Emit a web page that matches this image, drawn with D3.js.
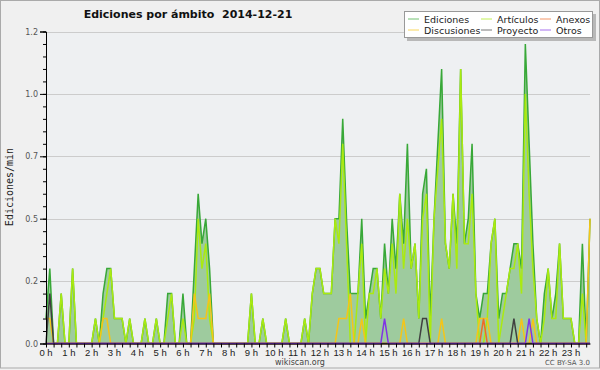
<!DOCTYPE html>
<html>
<head>
<meta charset="utf-8">
<script src="https://cdn.jsdelivr.net/npm/d3@7"></script>
<style>
  body { margin: 0; background: #f0f0f0; }
  svg { display: block; font-family: "DejaVu Sans", sans-serif; }
</style>
</head>
<body>
<div id="chart-area"></div>
<script>
// Ediciones por ámbito, 2014-12-21 — one value per 10 minutes (edits/min)

const ediciones = [
  0.1,0.3,0,0,0.2,0,0,0.3,0,0,0,0,
  0,0.1,0,0.2,0.3,0.3,0.1,0.1,0.1,0,0.1,0,
  0,0,0.1,0,0,0.1,0,0,0.2,0.2,0,0,
  0.2,0,0,0.3,0.6,0.4,0.5,0.3,0,0,0,0,
  0,0,0,0,0,0,0.2,0,0,0.1,0,0,
  0,0,0,0.1,0,0,0,0,0.1,0,0.2,0.3,
  0.3,0.2,0.2,0.2,0.5,0.5,0.9,0.5,0.2,0.2,0.2,0.5,
  0.1,0.2,0.3,0.3,0.1,0.4,0.2,0.5,0.3,0.6,0.4,0.8,
  0.3,0.4,0.1,0.6,0.7,0.1,0.5,0.8,1.1,0.4,0.3,0.6,
  0.4,1.1,0.4,0.5,0.8,0.2,0.1,0.2,0.2,0.4,0.5,0.1,
  0.2,0.2,0.3,0.4,0.4,0.3,1.2,0.8,0.4,0.1,0,0.2,
  0.3,0.1,0.2,0.4,0.1,0.1,0.1,0,0,0.4,0,0.5
];

const articulos = [
  0,0,0,0,0.2,0,0,0.3,0,0,0,0,
  0,0.1,0,0.1,0.2,0.3,0.1,0.1,0.1,0,0.1,0,
  0,0,0.1,0,0,0.1,0,0,0.1,0.2,0,0,
  0.1,0,0,0.1,0.5,0.3,0.4,0.1,0,0,0,0,
  0,0,0,0,0,0,0.2,0,0,0.1,0,0,
  0,0,0,0.1,0,0,0,0,0.1,0,0.2,0.3,
  0.3,0.2,0.2,0.2,0.5,0.4,0.8,0.4,0,0,0.2,0.4,
  0,0.2,0.2,0.3,0.1,0.3,0.2,0.4,0.2,0.6,0.3,0.5,
  0.3,0.4,0.1,0.5,0.6,0,0.5,0.7,0.9,0.4,0.3,0.6,
  0.3,1.1,0.4,0.4,0.6,0.2,0,0,0.1,0.4,0.5,0,
  0.1,0.2,0.3,0.3,0.4,0.2,1.0,0.6,0.3,0.1,0,0.1,
  0.3,0.1,0.1,0.4,0.1,0.1,0.1,0,0,0.2,0,0
];

const anexos = [
  0,0,0,0,0,0,0,0,0,0,0,0,
  0,0,0,0,0,0,0,0,0,0,0,0,
  0,0,0,0,0,0,0,0,0,0,0,0,
  0,0,0,0,0,0,0,0,0,0,0,0,
  0,0,0,0,0,0,0,0,0,0,0,0,
  0,0,0,0,0,0,0,0,0,0,0,0,
  0,0,0,0,0,0,0,0,0,0,0,0,
  0,0,0,0,0,0,0,0,0,0,0,0,
  0,0,0,0,0,0,0,0,0,0,0,0,
  0,0,0,0,0,0,0,0.1,0,0,0,0,
  0,0,0,0,0,0,0,0,0,0,0,0,
  0,0,0,0,0,0,0,0,0,0,0,0
];

const discusiones = [
  0.1,0.1,0,0,0,0,0,0,0,0,0,0,
  0,0,0,0.1,0.1,0,0,0,0,0,0,0,
  0,0,0,0,0,0,0,0,0,0,0,0,
  0,0,0,0.2,0.1,0.1,0.1,0.2,0,0,0,0,
  0,0,0,0,0,0,0,0,0,0,0,0,
  0,0,0,0,0,0,0,0,0,0,0,0,
  0,0,0,0,0,0.1,0.1,0.1,0.2,0,0,0.1,
  0,0,0,0,0,0,0,0,0,0,0.1,0,
  0,0,0,0,0,0,0,0,0.1,0,0,0,
  0,0,0,0,0,0,0.1,0.1,0.1,0,0,0,
  0,0,0,0,0,0.1,0,0,0.1,0,0,0,
  0,0,0,0,0,0,0,0,0,0,0,0.5
];

const proyecto = [
  0,0.2,0,0,0,0,0,0,0,0,0,0,
  0,0,0,0,0,0,0,0,0,0,0,0,
  0,0,0,0,0,0,0,0,0,0,0,0,
  0,0,0,0,0,0,0,0,0,0,0,0,
  0,0,0,0,0,0,0,0,0,0,0,0,
  0,0,0,0,0,0,0,0,0,0,0,0,
  0,0,0,0,0,0,0,0,0,0,0,0,
  0,0,0,0,0,0,0,0,0,0,0,0,
  0,0,0,0.1,0.1,0,0,0,0,0,0,0,
  0,0,0,0,0,0,0,0,0,0,0,0,
  0,0,0,0.1,0,0,0,0,0,0,0,0,
  0,0,0,0,0,0,0,0,0,0,0,0
];

const otros = [
  0,0,0,0,0,0,0,0,0,0,0,0,
  0,0,0,0,0,0,0,0,0,0,0,0,
  0,0,0,0,0,0,0,0,0,0,0,0,
  0,0,0,0,0,0,0,0,0,0,0,0,
  0,0,0,0,0,0,0,0,0,0,0,0,
  0,0,0,0,0,0,0,0,0,0,0,0,
  0,0,0,0,0,0,0,0,0,0,0,0,
  0,0,0,0,0,0.1,0,0,0,0,0,0,
  0,0,0,0,0,0,0,0,0,0,0,0,
  0,0,0,0,0,0,0,0,0,0,0,0,
  0,0,0,0,0,0,0,0.1,0,0,0,0,
  0,0,0,0,0,0,0,0,0,0,0,0
];

const yTicks = [0, 0.25, 0.5, 0.75, 1, 1.25];
const yTickLabels = ['0.0', '0.2', '0.5', '0.7', '1.0', '1.2'];
const hourLabels = d3.range(24).map(h => h + ' h');

const W = 600, H = 370;
const plotLeft = 46, plotRight = 590, plotTop = 31.5, plotBottom = 343.5;

const svg = d3.select('#chart-area').append('svg')
  .attr('width', W)
  .attr('height', H);

// background + frame
svg.append('rect')
  .attr('x', 0.5).attr('y', 0.5)
  .attr('width', W - 1).attr('height', H - 2.5)
  .attr('fill', '#f0f0f0')
  .attr('stroke', '#aaa');

svg.append('rect')
  .attr('x', plotLeft).attr('y', plotTop)
  .attr('width', plotRight - plotLeft).attr('height', plotBottom - plotTop)
  .attr('fill', '#eef0f2');

const x = d3.scaleLinear().domain([0, ediciones.length - 1]).range([plotLeft, plotRight]);
const y = d3.scaleLinear().domain([0, 1.25]).range([plotBottom, plotTop]);

// grid
svg.append('g')
  .selectAll('line')
  .data(yTicks.slice(1))
  .join('line')
  .attr('x1', plotLeft).attr('x2', plotRight)
  .attr('y1', d => Math.round(y(d)) + 0.5)
  .attr('y2', d => Math.round(y(d)) + 0.5)
  .attr('stroke', '#cccccc');

// area of total edits
const area = d3.area()
  .x((d, i) => x(i))
  .y0(y(0))
  .y1(d => y(d));

svg.append('path')
  .datum(ediciones)
  .attr('d', area)
  .attr('fill', '#9ecb9e');

const line = d3.line()
  .x((d, i) => x(i))
  .y(d => y(d));

const series = [
  { name: 'Ediciones',   values: ediciones,   color: '#38a838' },
  { name: 'Artículos',   values: articulos,   color: '#aaea10' },
  { name: 'Anexos',      values: anexos,      color: '#f06a28' },
  { name: 'Discusiones', values: discusiones, color: '#f5c518' },
  { name: 'Proyecto',    values: proyecto,    color: '#404040' },
  { name: 'Otros',       values: otros,       color: '#8033e6' }
];

// draw order: total first, then the namespaces on top
const drawOrder = ['Ediciones', 'Artículos', 'Discusiones', 'Anexos', 'Proyecto', 'Otros'];
drawOrder.forEach(n => {
  const s = series.find(d => d.name === n);
  svg.append('path')
    .datum(s.values)
    .attr('d', line)
    .attr('fill', 'none')
    .attr('stroke', s.color)
    .attr('stroke-width', 1.5);
});

// y axis
const yAxis = svg.append('g')
  .attr('transform', `translate(${plotLeft}, 0)`)
  .call(d3.axisLeft(y).tickValues(yTicks)
    .tickFormat((d, i) => yTickLabels[i]).tickSize(6).tickPadding(2));

svg.append('g')
  .attr('transform', `translate(${plotLeft}, 0)`)
  .call(d3.axisLeft(y).tickValues(d3.range(0, 1.26, 0.05)).tickFormat('').tickSize(3))
  .call(g => g.select('.domain').remove());

yAxis.selectAll('text')
  .attr('font-size', '8px')
  .attr('fill', '#555')
  .attr('font-family', '"DejaVu Sans", sans-serif');

// x axis
svg.append('g')
  .attr('transform', `translate(0, ${plotBottom})`)
  .call(d3.axisBottom(x).tickValues(d3.range(0, ediciones.length, 2))
    .tickFormat('').tickSize(4).tickSizeOuter(0));

svg.selectAll('.domain').attr('stroke', '#000');
svg.selectAll('.tick line').attr('stroke', '#000');

svg.append('g')
  .selectAll('text')
  .data(hourLabels)
  .join('text')
  .attr('x', (d, i) => x(i * 6))
  .attr('y', 356)
  .attr('text-anchor', 'middle')
  .attr('font-size', '9.5px')
  .attr('font-family', '"Liberation Sans", sans-serif')
  .attr('fill', '#222')
  .text(d => d);

// titles
svg.append('text')
  .attr('x', 188).attr('y', 18)
  .attr('text-anchor', 'middle')
  .attr('font-size', '11px')
  .attr('font-weight', 'bold')
  .attr('fill', '#111')
  .style('white-space', 'pre')
  .text('Ediciones por ámbito  2014-12-21');

svg.append('text')
  .attr('transform', `translate(13, 187) rotate(-90)`)
  .attr('text-anchor', 'middle')
  .attr('font-size', '10px')
  .attr('font-family', '"DejaVu Sans Mono", monospace')
  .attr('fill', '#222')
  .text('Ediciones/min');

svg.append('text')
  .attr('x', 300).attr('y', 365)
  .attr('text-anchor', 'middle')
  .attr('font-size', '8px')
  .attr('fill', '#444')
  .text('wikiscan.org');

svg.append('text')
  .attr('x', 590).attr('y', 365)
  .attr('text-anchor', 'end')
  .attr('font-size', '7px')
  .attr('fill', '#555')
  .text('CC BY-SA 3.0');

// legend
const lg = svg.append('g');
lg.append('rect')
  .attr('x', 407).attr('y', 14)
  .attr('width', 189).attr('height', 27)
  .attr('fill', '#b8b8b8');
lg.append('rect')
  .attr('x', 404.5).attr('y', 11.5)
  .attr('width', 188).attr('height', 26)
  .attr('fill', '#fff')
  .attr('stroke', '#999');

const legendCols = [408, 481, 540];
const legendRows = [19, 30];
const legendLayout = [
  ['Ediciones', 0, 0], ['Artículos', 1, 0], ['Anexos', 2, 0],
  ['Discusiones', 0, 1], ['Proyecto', 1, 1], ['Otros', 2, 1]
];

legendLayout.forEach(([n, c, r]) => {
  const s = series.find(d => d.name === n);
  const lx = legendCols[c], ly = legendRows[r];
  lg.append('line')
    .attr('x1', lx).attr('x2', lx + 11)
    .attr('y1', ly).attr('y2', ly)
    .attr('stroke', s.color)
    .attr('stroke-opacity', 0.7);
  lg.append('text')
    .attr('x', lx + 16).attr('y', ly + 3.5)
    .attr('font-size', '9.5px')
    .attr('fill', '#222')
    .text(n);
});
</script>
</body>
</html>
